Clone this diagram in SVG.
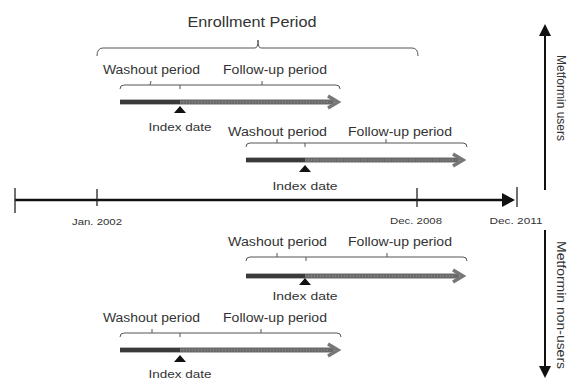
<svg xmlns="http://www.w3.org/2000/svg" width="570" height="381" viewBox="0 0 570 381">
<defs>
<style>
text{font-family:"Liberation Sans",Arial,sans-serif;fill:#333}
.lbl{font-size:12px}
.idx{font-size:10.5px}
.ax{font-size:9.5px}
.ttl{font-size:14px}
.side{font-size:12px}
.brace{fill:none;stroke:#555;stroke-width:1}
.bar{stroke:#6a6a6a;stroke-width:5;fill:none}
.barL{stroke:#3a3a3a;stroke-width:4;fill:none}
.dots{stroke:#999;stroke-width:1;stroke-dasharray:1 2;fill:none}
.head{fill:none;stroke:#777;stroke-width:3.5;stroke-linejoin:miter}
.tri{fill:#111}
.axis{stroke:#111;stroke-width:2.5;fill:none}
.tick{stroke:#222;stroke-width:1.3}
</style>
</defs>

<g id="connectors">
<!-- main timeline -->
<line class="axis" x1="15" y1="200" x2="512" y2="200"/>
<path d="M502,193 L515,200 L502,207 Z" fill="#111"/>
<line class="tick" x1="15" y1="188" x2="15" y2="213"/>
<line class="tick" x1="97" y1="189" x2="97" y2="206"/>
<line class="tick" x1="417" y1="188" x2="417" y2="207"/>
<line class="tick" x1="517" y1="187" x2="517" y2="207"/>
<!-- side arrows -->
<line x1="545" y1="190" x2="545" y2="34" stroke="#111" stroke-width="2"/>
<path d="M539,36 L545,24 L551,36 Z" fill="#111"/>
<line x1="545" y1="230" x2="545" y2="368" stroke="#111" stroke-width="2"/>
<path d="M539,366 L545,378 L551,366 Z" fill="#111"/>
</g>

<g id="axis-labels">
<text class="ax" x="97" y="225" text-anchor="middle" textLength="50" lengthAdjust="spacingAndGlyphs">Jan. 2002</text>
<text class="ax" x="416" y="224" text-anchor="middle" textLength="52" lengthAdjust="spacingAndGlyphs">Dec. 2008</text>
<text class="ax" x="516" y="224" text-anchor="middle" textLength="53" lengthAdjust="spacingAndGlyphs">Dec. 2011</text>
</g>

<g id="enrollment">
<text class="ttl" x="252" y="27" text-anchor="middle" textLength="129" lengthAdjust="spacingAndGlyphs">Enrollment Period</text>
<path class="brace" d="M97,56 Q97,48 103,48 L255,48 Q258,48 258,40 Q258,48 261,48 L412,48 Q418,48 418,56"/>
</g>

<g id="side-labels">
<text class="side" transform="translate(557,98) rotate(90)" text-anchor="middle">Metformin users</text>
<text class="side" transform="translate(557,305) rotate(90)" text-anchor="middle" textLength="128" lengthAdjust="spacingAndGlyphs">Metformin non-users</text>
</g>

<!-- Row 1 -->
<g id="row1">
<text class="lbl" x="103" y="74" textLength="97" lengthAdjust="spacingAndGlyphs">Washout period</text>
<text class="lbl" x="223" y="74" textLength="104" lengthAdjust="spacingAndGlyphs">Follow-up period</text>
<path class="brace" d="M120,89 Q120,85 124,85 L336,85 Q340,85 340,89"/>
<path class="brace" d="M150,85 L151,81 M180,85 L180,89 M262,85 L262,81"/>
<line class="bar" x1="120" y1="102" x2="334" y2="102"/>
<line class="barL" x1="120" y1="102" x2="180" y2="102"/>
<line class="dots" x1="180" y1="102" x2="330" y2="102"/>
<polyline class="head" points="328,96 338,102 328,108"/>
<path class="tri" d="M174,113 L180,106 L186,113 Z"/>
<text class="idx" x="180" y="131" text-anchor="middle" textLength="63" lengthAdjust="spacingAndGlyphs">Index date</text>
</g>

<!-- Row 2 -->
<g id="row2">
<text class="lbl" x="228" y="136" textLength="99" lengthAdjust="spacingAndGlyphs">Washout period</text>
<text class="lbl" x="348" y="136" textLength="104" lengthAdjust="spacingAndGlyphs">Follow-up period</text>
<path class="brace" d="M246,147 Q246,143 250,143 L463,143 Q467,143 467,147"/>
<path class="brace" d="M277,143 L277,139 M305,143 L305,147 M386,143 L386,139"/>
<line class="bar" x1="246" y1="160" x2="459" y2="160"/>
<line class="barL" x1="246" y1="160" x2="305" y2="160"/>
<line class="dots" x1="305" y1="160" x2="455" y2="160"/>
<polyline class="head" points="453,154 463,160 453,166"/>
<path class="tri" d="M299,172 L305,165 L311,172 Z"/>
<text class="idx" x="305" y="190" text-anchor="middle" textLength="65" lengthAdjust="spacingAndGlyphs">Index date</text>
</g>

<!-- Row 3 -->
<g id="row3">
<text class="lbl" x="228" y="246" textLength="99" lengthAdjust="spacingAndGlyphs">Washout period</text>
<text class="lbl" x="348" y="246" textLength="104" lengthAdjust="spacingAndGlyphs">Follow-up period</text>
<path class="brace" d="M246,261 Q246,257 250,257 L463,257 Q467,257 467,261"/>
<path class="brace" d="M277,257 L277,253 M306,257 L306,261 M387,257 L387,253"/>
<line class="bar" x1="246" y1="276" x2="459" y2="276"/>
<line class="barL" x1="246" y1="276" x2="305" y2="276"/>
<line class="dots" x1="305" y1="276" x2="455" y2="276"/>
<polyline class="head" points="453,270 463,276 453,282"/>
<path class="tri" d="M299,285 L305,278 L311,285 Z"/>
<text class="idx" x="305" y="300" text-anchor="middle" textLength="65" lengthAdjust="spacingAndGlyphs">Index date</text>
</g>

<!-- Row 4 -->
<g id="row4">
<text class="lbl" x="103" y="322" textLength="97" lengthAdjust="spacingAndGlyphs">Washout period</text>
<text class="lbl" x="223" y="322" textLength="104" lengthAdjust="spacingAndGlyphs">Follow-up period</text>
<path class="brace" d="M120,337 Q120,333 124,333 L337,333 Q341,333 341,337"/>
<path class="brace" d="M152,333 L152,329 M180,333 L180,337 M261,333 L261,329"/>
<line class="bar" x1="120" y1="350" x2="334" y2="350"/>
<line class="barL" x1="120" y1="350" x2="180" y2="350"/>
<line class="dots" x1="180" y1="350" x2="330" y2="350"/>
<polyline class="head" points="328,344 338,350 328,356"/>
<path class="tri" d="M174,362 L180,355 L186,362 Z"/>
<text class="idx" x="180" y="378" text-anchor="middle" textLength="63" lengthAdjust="spacingAndGlyphs" style="font-size:10px">Index date</text>
</g>
</svg>
